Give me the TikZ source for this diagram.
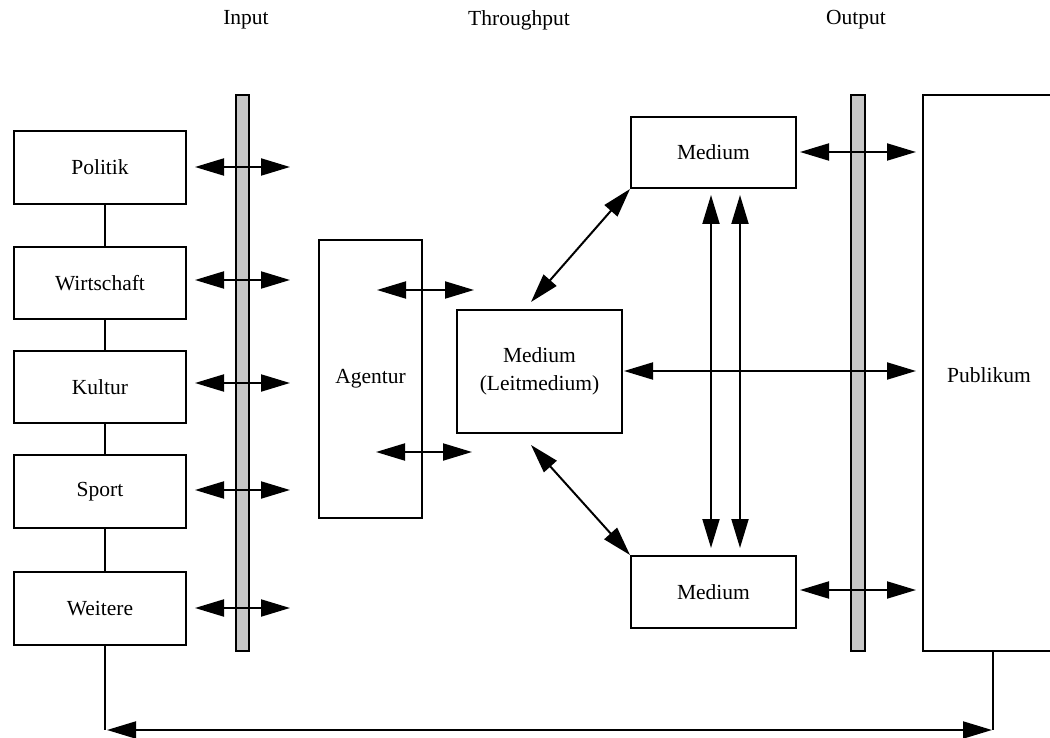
\documentclass[tikz,border=0pt]{standalone}
\usepackage{fontspec}
\setmainfont{Liberation Serif}
\usetikzlibrary{arrows.meta}

\tikzset{
  pic units/.style={x=1pt,y=-1pt},
  lbl/.style={font=\fontsize{21.5}{28}\selectfont, align=center, inner sep=0pt},
  box/.style={draw, line width=2pt, fill=white, inner sep=0pt, lbl},
  bar/.style={draw, line width=2pt, fill=black!22},
  link/.style={line width=2pt},
  dbl/.style={line width=2pt, {Triangle[length=29pt,width=17pt]}-{Triangle[length=29pt,width=17pt]}},
}

\begin{document}
\begin{tikzpicture}[pic units]
\useasboundingbox (0,0) rectangle (1050,738);
\clip (0,0) rectangle (1050,738);

% column headings
\node[lbl] (hin)  at (246,20) {Input};
\node[lbl] (hthr) at (519,20) {Throughput};
\node[lbl] (hout) at (856,20) {Output};

% source domains
\node[box, minimum width=172pt, minimum height=73pt] (politik)    at (100,167.5) {Politik};
\node[box, minimum width=172pt, minimum height=72pt] (wirtschaft) at (100,283)   {Wirtschaft};
\node[box, minimum width=172pt, minimum height=72pt] (kultur)     at (100,387)   {Kultur};
\node[box, minimum width=172pt, minimum height=73pt] (sport)      at (100,491.5) {Sport};
\node[box, minimum width=172pt, minimum height=73pt] (weitere)    at (100,608.5) {Weitere};

\draw[link] ([xshift=5pt]politik.south)    -- ([xshift=5pt]wirtschaft.north);
\draw[link] ([xshift=5pt]wirtschaft.south) -- ([xshift=5pt]kultur.north);
\draw[link] ([xshift=5pt]kultur.south)     -- ([xshift=5pt]sport.north);
\draw[link] ([xshift=5pt]sport.south)      -- ([xshift=5pt]weitere.north);

% input and output bars
\draw[bar] (236,95) rectangle (249,651);
\draw[bar] (851,95) rectangle (865,651);

% exchange across the input bar
\foreach \y [count=\i] in {167,280,383,490,608} {
  \coordinate (inL\i) at (195,\y);
  \coordinate (inR\i) at (290,\y);
  \draw[dbl] (inL\i) -- (inR\i);
}

% agency, media and audience
\node[box, minimum width=103pt, minimum height=278pt] (agentur) at (370.5,379) {Agentur};
\node[box, minimum width=165pt, minimum height=123pt] (leit) at (539.5,371.5) {\raisebox{-3pt}{Medium}\\\raisebox{-3pt}{(Leitmedium)}};
\node[box, minimum width=165pt, minimum height=71pt] (mtop) at (713.5,152.5) {Medium};
\node[box, minimum width=165pt, minimum height=72pt] (mbot) at (713.5,592) {Medium};
\node[box, minimum width=160pt, minimum height=556pt] (publikum) at (1003,373) {};
\node[lbl] (publabel) at (989,375) {Publikum};

% agency to lead medium
\coordinate (ag1a) at (377,290); \coordinate (ag1b) at (474,290);
\coordinate (ag2a) at (376,452); \coordinate (ag2b) at (472,452);
\draw[dbl] (ag1a) -- (ag1b);
\draw[dbl] (ag2a) -- (ag2b);

% lead medium to the other media
\coordinate (dtop) at (531,302);
\coordinate (dbot) at (531,445);
\draw[dbl] (dtop) -- (mtop.south west);
\draw[dbl] (dbot) -- (mbot.north west);
\coordinate (v1a) at (711,195); \coordinate (v1b) at (711,548);
\coordinate (v2a) at (740,195); \coordinate (v2b) at (740,548);
\draw[dbl] (v1a) -- (v1b);
\draw[dbl] (v2a) -- (v2b);

% media to audience
\coordinate (hL) at (624,371); \coordinate (hR) at (916,371);
\draw[dbl] (hL) -- (hR);
\coordinate (o1a) at (800,152); \coordinate (o1b) at (916,152);
\coordinate (o2a) at (800,590); \coordinate (o2b) at (916,590);
\draw[dbl] (o1a) -- (o1b);
\draw[dbl] (o2a) -- (o2b);

% feedback loop from sources to audience
\coordinate (fbL) at (105,730);
\coordinate (fbR) at (993,730);
\draw[link] ([xshift=5pt]weitere.south) -- (fbL);
\draw[link] (publikum.south -| fbR) -- (fbR);
\draw[dbl] ([xshift=2pt]fbL) -- ([xshift=-1pt]fbR);
\end{tikzpicture}
\end{document}
